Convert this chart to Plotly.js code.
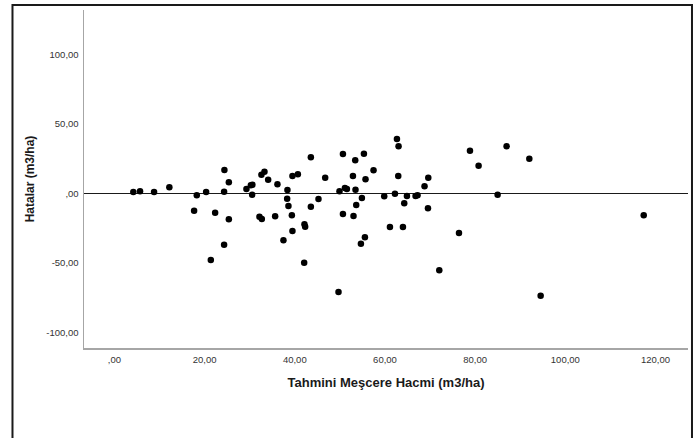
<!DOCTYPE html>
<html>
<head>
<meta charset="utf-8">
<script src="https://cdn.plot.ly/plotly-3.0.1.min.js"></script>
<style>
  html, body { margin: 0; padding: 0; background: #ffffff; }
  #chart { width: 698px; height: 438px; }
</style>
</head>
<body>
<div id="chart"></div>
<script>
// Predicted stand volume (x) and residuals (y)
const predicted = [
  4.19, 5.68, 8.79, 12.18, 18.26, 17.67, 20.33, 22.33, 21.37, 24.39,
  25.37, 24.32, 25.37, 24.32, 29.27, 30.25, 30.60, 30.54, 32.60, 33.27,
  34.09, 36.15, 32.16, 32.69, 35.64, 38.37, 38.30, 38.59, 39.35, 39.48,
  37.48, 39.48, 40.68, 43.56, 46.74, 45.25, 43.56, 42.14, 42.30, 42.08,
  50.67, 53.40, 55.33, 57.46, 52.89, 55.68, 49.91, 51.11, 51.55, 53.46,
  54.88, 53.62, 50.67, 53.02, 55.55, 54.66, 49.69, 62.65, 63.01, 62.94,
  62.21, 59.83, 64.27, 64.87, 66.78, 67.22, 68.77, 69.60, 69.53, 61.10,
  63.98, 76.41, 72.04, 78.85, 80.76, 86.97, 92.01, 84.98, 94.52, 117.38
];
const residuals = [
  0.94, 1.44, 0.94, 4.32, -1.44, -12.52, 0.94, -13.96, -47.99, 16.76,
  7.91, 1.15, -18.71, -36.98, 3.09, 5.76, 6.19, -1.01, 13.38, 15.54,
  9.78, 6.47, -16.83, -18.49, -16.55, 2.37, -3.88, -9.14, -15.83, -27.12,
  -33.81, 12.45, 13.67, 25.90, 11.22, -4.10, -9.64, -22.30, -24.03, -49.93,
  28.27, 23.74, 28.49, 16.55, 12.45, 10.07, 1.44, 3.81, 3.09, 2.59,
  -3.38, -8.42, -14.89, -16.33, -31.65, -36.26, -71.01, 39.06, 33.81, 12.45,
  -0.29, -2.16, -7.19, -1.94, -1.94, -1.44, 5.04, 11.22, -10.79, -24.24,
  -24.24, -28.56, -55.40, 30.65, 19.86, 33.81, 24.89, -1.01, -73.67, -15.83
];

// Tick values and their labels (decimal comma, as in the reference)
const xTickVals = [0, 20, 40, 60, 80, 100, 120];
const xTickText = [",00", "20,00", "40,00", "60,00", "80,00", "100,00", "120,00"];
const yTickVals = [-100, -50, 0, 50, 100];
const yTickText = ["-100,00", "-50,00", ",00", "50,00", "100,00"];

const xTitle = "Tahmini Meşcere Hacmi (m3/ha)";
const yTitle = "Hatalar (m3/ha)";

const trace = {
  type: "scatter",
  mode: "markers",
  x: predicted,
  y: residuals,
  marker: { color: "#000000", size: 6.5, line: { width: 0 } },
  hoverinfo: "x+y"
};

const tickFont = { family: "Liberation Sans, Arial, sans-serif", size: 9.5, color: "#333333" };
const titleFont = { family: "Liberation Sans, Arial, sans-serif", size: 13, color: "#1a1a1a", weight: "bold" };

const layout = {
  width: 698,
  height: 438,
  margin: { l: 84, r: 10, t: 10, b: 90, pad: 0 },
  paper_bgcolor: "#ffffff",
  plot_bgcolor: "#ffffff",
  showlegend: false,
  xaxis: {
    range: [-6.75, 127.2],
    tickmode: "array",
    tickvals: xTickVals,
    ticktext: xTickText,
    tickfont: tickFont,
    ticks: "",
    showgrid: false,
    zeroline: false,
    showline: true,
    linecolor: "#a6a6a6",
    linewidth: 1.5,
    ticklabelstandoff: 2,
    title: { text: xTitle, font: titleFont, standoff: 14 }
  },
  yaxis: {
    range: [-111.3, 131.9],
    tickmode: "array",
    tickvals: yTickVals,
    ticktext: yTickText,
    tickfont: tickFont,
    ticks: "",
    showgrid: false,
    zeroline: true,
    zerolinecolor: "#1a1a1a",
    zerolinewidth: 1.2,
    showline: true,
    linecolor: "#a6a6a6",
    linewidth: 1.5,
    ticklabelstandoff: 2,
    title: { text: yTitle, font: { family: "Liberation Sans, Arial, sans-serif", size: 12, color: "#1a1a1a", weight: "bold" }, standoff: 9 }
  },
  shapes: [
    {
      type: "rect", xref: "paper", yref: "paper",
      x0: -0.1184, x1: 1.0066, y0: -0.28, y1: 1.0148,
      line: { color: "#1a1a1a", width: 2 },
      fillcolor: "rgba(0,0,0,0)",
      layer: "above"
    }
  ]
};

Plotly.newPlot("chart", [trace], layout, { displayModeBar: false, staticPlot: true });
</script>
</body>
</html>
